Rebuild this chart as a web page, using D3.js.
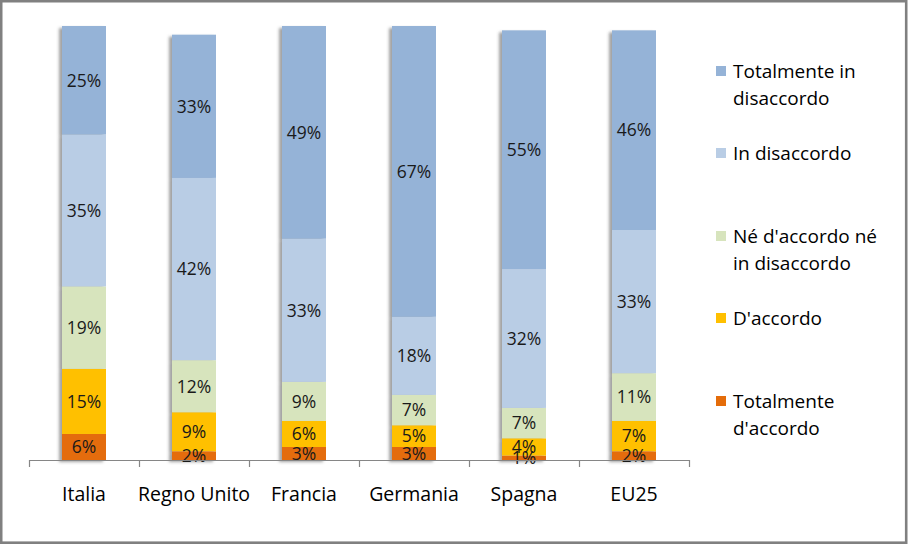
<!DOCTYPE html>
<html><head><meta charset="utf-8">
<script src="https://cdn.jsdelivr.net/npm/d3@7"></script>
<style>
html,body{margin:0;padding:0;background:#fff;}
svg{display:block;}
text{font-family:"Open Sans","Noto Sans",sans-serif;}
</style></head>
<body>
<svg id="chart" width="909" height="545"></svg>
<script>
const categories = ["Italia","Regno Unito","Francia","Germania","Spagna","EU25"];
const seriesNames = ["Totalmente d'accordo","D'accordo","Né d'accordo né in disaccordo","In disaccordo","Totalmente in disaccordo"];
const totalmenteAccordo = [6,2,3,3,1,2];
const accordo = [15,9,6,5,4,7];
const neutro = [19,12,9,7,7,11];
const disaccordo = [35,42,33,18,32,33];
const totalmenteDisaccordo = [25,33,49,67,55,46];
const colors = ["#E46C0A","#FFC000","#D7E4BD","#B9CDE5","#95B3D7"];
const legendLabels = [["Totalmente in","disaccordo"],["In disaccordo"],["Né d'accordo né","in disaccordo"],["D'accordo"],["Totalmente","d'accordo"]];
const legendColors = ["#95B3D7","#B9CDE5","#D7E4BD","#FFC000","#E46C0A"];

const seriesValues = [totalmenteAccordo, accordo, neutro, disaccordo, totalmenteDisaccordo];
const rows = categories.map((c,i)=>{
  const r = {cat:c};
  seriesNames.forEach((s,j)=> r[s]=seriesValues[j][i]);
  return r;
});
const stack = d3.stack().keys(seriesNames)(rows);

const svg = d3.select("#chart");
svg.append("rect").attr("x",1.2).attr("y",1.2).attr("width",905).attr("height",541.5)
  .attr("fill","#fff").attr("stroke","#808080").attr("stroke-width",2.6);

const defs = svg.append("defs");
const f = defs.append("filter").attr("id","sh").attr("x","-30%").attr("y","-5%").attr("width","160%").attr("height","110%");
f.append("feDropShadow").attr("dx",-3).attr("dy",2).attr("stdDeviation",1.8)
  .attr("flood-color","#555").attr("flood-opacity",0.55);

const x = d3.scaleBand().domain(categories).range([29,689]).padding(0);
const y = d3.scaleLinear().domain([0,100]).range([460,26]);
const bw = 44;

const barsG = svg.append("g");
categories.forEach((c,i)=>{
  const g = barsG.append("g").attr("filter","url(#sh)");
  stack.forEach((layer,j)=>{
    const d = layer[i];
    g.append("rect")
      .attr("x", x(c)+x.bandwidth()/2-bw/2)
      .attr("width", bw)
      .attr("y", y(d[1]))
      .attr("height", y(d[0])-y(d[1]))
      .attr("fill", colors[j]);
  });
});
categories.forEach((c,i)=>{
  stack.forEach((layer,j)=>{
    const d = layer[i];
    svg.append("text")
      .attr("x", x(c)+x.bandwidth()/2)
      .attr("y", (y(d[0])+y(d[1]))/2)
      .attr("dy","0.36em")
      .attr("text-anchor","middle")
      .attr("font-size",17.5)
      .attr("fill","#1a1a1a")
      .text(d.data[layer.key]+"%");
  });
});

const axisG = svg.append("g").attr("transform","translate(0,460)");
const axis = d3.axisBottom(x).tickSize(0).tickPadding(27);
axisG.call(axis);
axisG.select(".domain").attr("stroke","#868686").attr("stroke-width",1.2).attr("d","M29,0.5H689");
axisG.selectAll(".tick text").attr("font-size",19.5).attr("fill","#000").style("font-family","'Open Sans','Noto Sans',sans-serif");
const bounds = categories.map(c=>x(c)).concat([x.range()[1]]);
axisG.selectAll("line.tk").data(bounds).join("line").attr("class","tk")
  .attr("x1",d=>d+0.5).attr("x2",d=>d+0.5).attr("y1",0).attr("y2",7)
  .attr("stroke","#868686").attr("stroke-width",1.2);

const legY = [71,153,236,318,401];
const lg = svg.append("g");
legendLabels.forEach((lines,i)=>{
  lg.append("rect").attr("x",716).attr("y",legY[i]-5).attr("width",10).attr("height",10).attr("fill",legendColors[i]);
  lines.forEach((t,k)=>{
    lg.append("text").attr("x",733).attr("y",legY[i]+k*27.5).attr("dy","0.36em")
      .attr("font-size",19).attr("fill","#000").text(t);
  });
});
</script>
</body></html>
